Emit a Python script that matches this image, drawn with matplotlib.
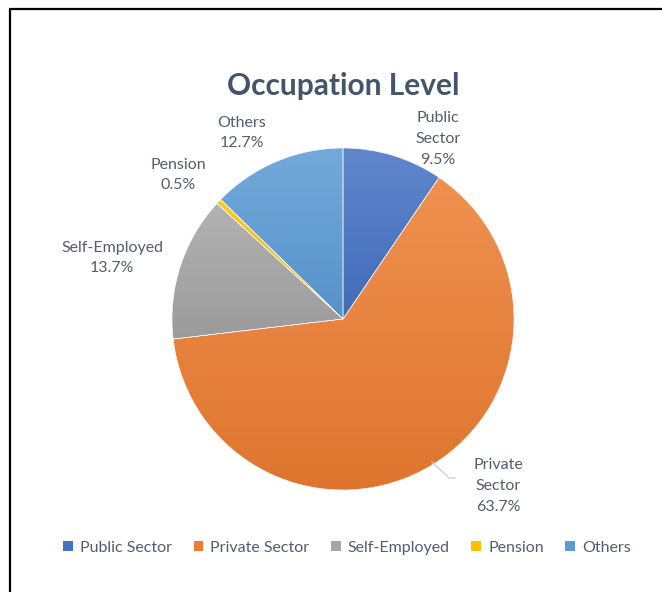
import matplotlib.pyplot as plt
import matplotlib.colors as mcolors
from matplotlib.patches import Patch
import numpy as np

categories = ["Public Sector", "Private Sector", "Self-Employed", "Pension", "Others"]
shares = [9.5, 63.7, 13.7, 0.5, 12.7]
label_names = ["Public\nSector", "Private\nSector", "Self-Employed", "Pension", "Others"]
colors = ["#4472C4", "#ED7D31", "#A5A5A5", "#FFC000", "#5B9BD5"]

plt.rcParams['font.family'] = ['Lato', 'DejaVu Sans']
text_col = "#535d6d"

W, H = 662, 592
fig = plt.figure(figsize=(W / 100, H / 100), dpi=100)
ax = fig.add_axes([0, 0, 1, 1])

# chart frame (only left and top edges visible in the screenshot)
ax.plot([9.5, 9.5, W], [0, H - 8.5, H - 8.5], color="black", lw=1.6, solid_capstyle='butt')

cx, cy, r = 343, 592 - 319, 171
wedges, _ = ax.pie(shares, colors=colors, startangle=90, counterclock=False,
                   center=(cx, cy), radius=r, frame=True,
                   wedgeprops=dict(edgecolor="white", linewidth=0.4))


def shade(c, f):
    rgb = np.array(mcolors.to_rgb(c))
    if f > 0:
        return rgb + (1 - rgb) * f
    return rgb * (1 + f)


# excel-like vertical gradient on each slice
for w, c in zip(wedges, colors):
    bb = w.get_path().get_extents(w.get_patch_transform())
    top, bot = shade(c, 0.15), shade(c, -0.06)
    t = np.linspace(0, 1, 256)[:, None]
    grad = (top[None, :] * (1 - t) + bot[None, :] * t)[:, None, :]
    im = ax.imshow(grad, extent=[bb.x0, bb.x1, bb.y0, bb.y1], origin='upper',
                   aspect='auto', zorder=w.get_zorder(), interpolation='bilinear')
    im.set_clip_path(w)
    w.set_facecolor('none')
    w.set_zorder(w.get_zorder() + 0.5)

ax.set_xlim(0, W)
ax.set_ylim(0, H)
ax.set_aspect('equal')
ax.axis('off')

ax.text(343, 592 - 86, "Occupation Level", ha='center', va='center',
        fontsize=21.5, fontweight='bold', color="#44546a")

# data labels
label_xy = [(438, 139), (498, 486), (112, 258), (178, 175), (242, 133)]
for (lx, ly), name, v in zip(label_xy, label_names, shares):
    ax.text(lx, 592 - ly, f"{name}\n{v}%", ha='center', va='center',
            fontsize=11.5, color=text_col, linespacing=1.6)

# leader line for Private Sector
ax.plot([432, 449, 455], [592 - 462, 592 - 478, 592 - 478], color="#c8ccd2", lw=0.9)

handles = [Patch(facecolor=c, edgecolor='none') for c in colors]
fig.legend(handles, categories, loc='center', bbox_to_anchor=(347 / W, 1 - 548 / H),
           ncol=5, frameon=False, fontsize=11.5, labelcolor=text_col,
           handlelength=0.6, handleheight=0.6, handletextpad=0.45, columnspacing=1.35)

fig.savefig("out.png", dpi=100, facecolor="white")
